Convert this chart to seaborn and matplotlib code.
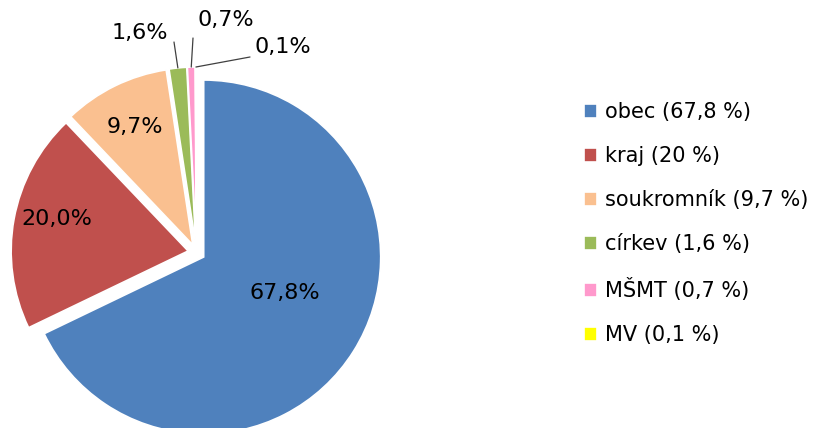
import matplotlib
matplotlib.use("Agg")
import matplotlib.pyplot as plt
import numpy as np
import seaborn as sns

categories = ["obec", "kraj", "soukromník", "církev", "MŠMT", "MV"]
shares = [67.8, 20.0, 9.7, 1.6, 0.7, 0.1]
legend_labels = ["obec (67,8 %)", "kraj (20 %)", "soukromník (9,7 %)",
                 "církev (1,6 %)", "MŠMT (0,7 %)", "MV (0,1 %)"]
slice_labels = ["67,8%", "20,0%", "9,7%", "1,6%", "0,7%", "0,1%"]
colors = ["#4F81BD", "#C0504D", "#FAC090", "#9BBB59", "#FF99CC", "#FFFF00"]

sns.set_style("white")
plt.rcParams["font.family"] = ["DejaVu Sans"]
plt.rcParams["text.color"] = "black"

W, H = 824, 428
fig = plt.figure(figsize=(W / 100, H / 100), dpi=100)

# pie centre and radius in pixels
cx, cy, R = 196.5, 252.5, 177
L = 1.3
S = R * L
ax = fig.add_axes([(cx - S) / W, (H - cy - S) / H, 2 * S / W, 2 * S / H])

palette = sns.color_palette(colors)
explode = [0.048] * len(shares)
wedges, _ = ax.pie(shares, colors=palette, startangle=90, counterclock=False,
                   explode=explode, radius=1,
                   wedgeprops=dict(edgecolor="white", linewidth=1.2))
ax.set_xlim(-L, L)
ax.set_ylim(-L, L)
ax.set_aspect("equal")
ax.axis("off")

def px(xp, yp):
    return (xp - cx) / R, (cy - yp) / R

# inside labels
inside = {0: (285, 293), 1: (57, 219), 2: (135, 127)}
for i, p in inside.items():
    x, y = px(*p)
    ax.text(x, y, slice_labels[i], ha="center", va="center", fontsize=16, color="black")

# outside labels with leader lines
outside = {3: ((140, 33), (174, 42)), 4: ((226, 20), (193, 38)), 5: ((283, 47), (250, 57))}
for i, (tpos, lend) in outside.items():
    w = wedges[i]
    ang = np.deg2rad((w.theta1 + w.theta2) / 2)
    x0 = w.center[0] + w.r * np.cos(ang)
    y0 = w.center[1] + w.r * np.sin(ang)
    x1, y1 = px(*lend)
    ax.plot([x0, x1], [y0, y1], color="#404040", lw=0.9, clip_on=False)
    tx, ty = px(*tpos)
    ax.text(tx, ty, slice_labels[i], ha="center", va="center", fontsize=16,
            color="black", clip_on=False)

fig.legend(wedges, legend_labels, loc="upper left", bbox_to_anchor=(576 / W, 1 - 94 / H),
           frameon=False, fontsize=15, handlelength=0.62, handleheight=0.62,
           handletextpad=0.35, labelspacing=1.15, borderaxespad=0)

fig.savefig("out.png", dpi=100)
